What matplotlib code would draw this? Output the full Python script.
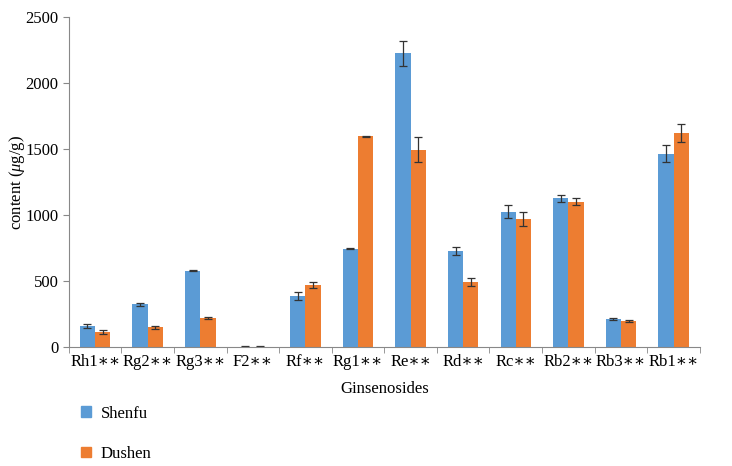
import numpy as np
import matplotlib
matplotlib.use("Agg")
import matplotlib.pyplot as plt
from matplotlib.patches import Patch

plt.rcParams['font.family'] = ['Liberation Serif', 'DejaVu Serif']
plt.rcParams['mathtext.fontset'] = 'custom'
plt.rcParams['mathtext.it'] = 'Liberation Serif:italic'
plt.rcParams['mathtext.rm'] = 'Liberation Serif'

categories = ["Rh1", "Rg2", "Rg3", "F2", "Rf", "Rg1", "Re", "Rd", "Rc", "Rb2", "Rb3", "Rb1"]
shenfu = [157, 325, 580, 5, 390, 745, 2225, 730, 1025, 1125, 215, 1465]
shenfu_err = [15, 10, 5, 2, 30, 5, 95, 30, 50, 25, 8, 65]
dushen = [115, 150, 220, 5, 470, 1595, 1495, 490, 970, 1100, 200, 1620]
dushen_err = [18, 10, 5, 2, 25, 5, 95, 30, 50, 25, 8, 65]

blue = '#5B9BD5'
orange = '#ED7D31'

fig = plt.figure(figsize=(7.32, 4.66), dpi=100)
ax = fig.add_axes([0.094, 0.255, 0.862, 0.709])

x = np.arange(len(categories))
w = 0.29
ekw = dict(ecolor='#333333', elinewidth=0.9, capsize=3, capthick=0.9)
ax.bar(x - w/2, shenfu, w, color=blue, yerr=shenfu_err, error_kw=ekw)
ax.bar(x + w/2, dushen, w, color=orange, yerr=dushen_err, error_kw=ekw)

ax.set_xlim(-0.5, len(categories) - 0.5)
ax.set_ylim(0, 2500)
ax.set_yticks([0, 500, 1000, 1500, 2000, 2500])
ax.set_xticks(x)
ax.set_xticklabels([c + "∗∗" for c in categories], fontsize=12)
ax.set_xticks(np.arange(len(categories) + 1) - 0.5, minor=True)
ax.tick_params(axis='x', which='major', length=0, pad=5)
ax.tick_params(axis='x', which='minor', length=4, color='#888888')
ax.tick_params(axis='y', length=4, color='#888888', labelsize=12)

for s in ['top', 'right']:
    ax.spines[s].set_visible(False)
for s in ['left', 'bottom']:
    ax.spines[s].set_color('#888888')

ax.set_xlabel("Ginsenosides", fontsize=12, labelpad=8)
ax.set_ylabel(r"content ($\mu$g/g)", fontsize=12)
ax.yaxis.set_label_coords(-0.066, 0.5)

handles = [Patch(color=blue, label='Shenfu'), Patch(color=orange, label='Dushen')]
fig.legend(handles=handles, loc='upper left', bbox_to_anchor=(0.09, 0.162),
           frameon=False, prop={'family': ['Liberation Serif', 'DejaVu Serif'], 'size': 12},
           handlelength=0.6, handleheight=0.6,
           labelspacing=1.45, handletextpad=0.6)

fig.savefig('out.png', dpi=100, facecolor='white')
